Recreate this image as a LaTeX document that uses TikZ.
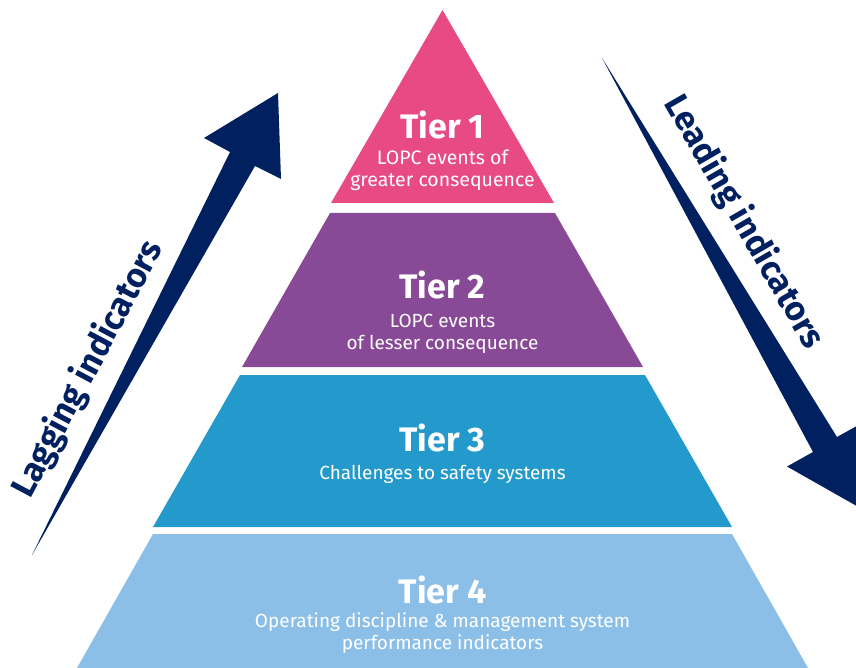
\documentclass[tikz,border=0pt]{standalone}
\usepackage{fontspec}
\setmainfont{Fira Sans}
\usepackage{xcolor}
\usepackage{tikz}
\usetikzlibrary{positioning}

\definecolor{tierone}{HTML}{E84A83}
\definecolor{tiertwo}{HTML}{884A96}
\definecolor{tierthree}{HTML}{2499CC}
\definecolor{tierfour}{HTML}{8BBFE8}
\definecolor{navy}{HTML}{00205F}

\begin{document}
\begin{tikzpicture}[x=1pt, y=-1pt,
    tiertitle/.style = {text=white, inner sep=0pt, font=\fontsize{34}{38}\selectfont\bfseries},
    tiertext/.style = {text=white, inner sep=0pt, align=center, font=\fontsize{19}{21.5}\selectfont},
    arrowtext/.style = {text=navy, inner sep=0pt, font=\fontsize{34}{38}\selectfont\bfseries}]
    \useasboundingbox (0,0) rectangle (856,668);
    \clip (0,0) rectangle (856,668);

    % pyramid tiers
    \fill[tierone] (442.5,10) -- (554,203) -- (331,203) -- cycle;
    \fill[tiertwo] (330,213) -- (555,213) -- (643,367) -- (242,367) -- cycle;
    \fill[tierthree] (240,375) -- (645,375) -- (732,527) -- (153,527) -- cycle;
    \fill[tierfour] (153,534) -- (732,534) -- (808,668) -- (77,668) -- cycle;

    % tier labels
    \node[tiertitle] (tier1) at (442.5,125) {Tier 1};
    \node[tiertext, font=\fontsize{19.5}{22}\selectfont] (tier1txt) at (442.5,170) {LOPC events of\\greater consequence};
    \node[tiertitle] (tier2) at (442.5,285) {Tier 2};
    \node[tiertext] (tier2txt) at (442.5,334) {LOPC events\\of lesser consequence};
    \node[tiertitle] (tier3) at (442.5,438) {Tier 3};
    \node[tiertext] (tier3txt) at (442.5,474) {Challenges to safety systems};
    \node[tiertitle] (tier4) at (442.5,590) {Tier 4};
    \node[tiertext] (tier4txt) at (442.5,633) {Operating discipline \& management system\\performance indicators};

    % lagging arrow (up)
    \fill[navy] (32,555) -- (230,152) -- (204,138) -- (278,93) -- (281,179) -- (255,166) -- cycle;
    \node[arrowtext, rotate=62] (lagging) at (88,369) {Lagging indicators};

    % leading arrow (down)
    \fill[navy] (602,58) -- (837,437) -- (863,422.5) -- (862,509) -- (787,466.5) -- (813,452) -- cycle;
    \node[arrowtext, rotate=-60] (leading) at (744,222) {Leading indicators};
\end{tikzpicture}
\end{document}
